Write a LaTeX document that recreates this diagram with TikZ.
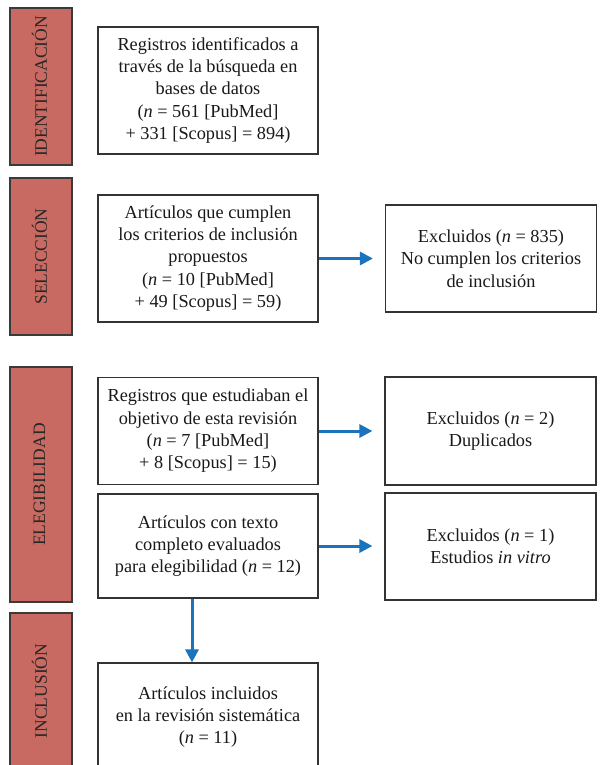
\documentclass[tikz,border=0pt]{standalone}
\usepackage{fontspec}
\setmainfont{Liberation Serif}
\usetikzlibrary{arrows.meta}
\definecolor{barfill}{HTML}{C96A62}
\definecolor{barline}{HTML}{3A3A3A}
\definecolor{arrowblue}{HTML}{1A73BC}
\definecolor{boxline}{HTML}{333333}
\begin{document}
\begin{tikzpicture}[x=1pt,y=-1pt,
  bar/.style={draw=barline, line width=1.2pt, fill=barfill},
  barlabel/.style={rotate=90, inner sep=0pt, text=black!85, font=\fontsize{17.5}{20}\selectfont},
  box/.style={draw=boxline, line width=1.2pt, fill=white, align=center, inner sep=0pt,
    minimum width=220pt, text=black!90, font=\fontsize{18.3}{22.3}\selectfont},
  rbox/.style={box, minimum width=211pt},
  arr/.style={draw=arrowblue, line width=3pt, -{Triangle[length=13pt,width=13pt]}}]
\fill[white] (0,0) rectangle (600,765);
\useasboundingbox (0,0) rectangle (600,765);

% phase bars
\draw[bar] (10,8) rectangle (72,165);
\draw[bar] (10,178) rectangle (72,335);
\draw[bar] (10,367) rectangle (72,602);
\draw[bar] (10,613) rectangle (72,775);
\node[barlabel] (l1) at (39.5,86.5) {IDENTIFICACIÓN};
\node[barlabel] (l2) at (39.5,256.5) {SELECCIÓN};
\node[barlabel] (l3) at (39.5,484.5) {ELEGIBILIDAD};
\node[barlabel] (l4) at (39.5,691) {INCLUSIÓN};

% main column
\node[box, minimum height=127pt] (b1) at (208,90.5)
  {Registros identificados a\\ través de la búsqueda en\\ bases de datos\\ (\textit{n} = 561 [PubMed]\\ + 331 [Scopus] = 894)};
\node[box, minimum height=127pt] (b2) at (208,258.5)
  {Artículos que cumplen\\ los criterios de inclusión\\ propuestos\\ (\textit{n} = 10 [PubMed]\\ + 49 [Scopus] = 59)};
\node[box, minimum height=107pt] (b3) at (208,431)
  {Registros que estudiaban el\\ objetivo de esta revisión\\ (\textit{n} = 7 [PubMed]\\ + 8 [Scopus] = 15)};
\node[box, minimum height=104pt] (b4) at (208,546)
  {Artículos con texto\\ completo evaluados\\ para elegibilidad (\textit{n} = 12)};
\node[box, minimum height=108pt] (b5) at (208,717)
  {Artículos incluidos\\ en la revisión sistemática\\ (\textit{n} = 11)};

% exclusion column
\node[rbox, minimum height=107pt] (r1) at (491,258.5)
  {Excluidos (\textit{n} = 835)\\ No cumplen los criterios\\ de inclusión};
\node[rbox, minimum height=108pt] (r2) at (490.5,431)
  {Excluidos (\textit{n} = 2)\\ Duplicados};
\node[rbox, minimum height=107pt] (r3) at (490.5,546.5)
  {Excluidos (\textit{n} = 1)\\ Estudios \textit{in vitro}};

% connectors
\draw[arr, shorten >=12pt] (b2.east) -- (b2.east -| r1.west);
\draw[arr, shorten >=12pt] (b3.east) -- (b3.east -| r2.west);
\draw[arr, shorten >=12pt] (b4.east) -- (b4.east -| r3.west);
\draw[arr] ([xshift=-16pt]b4.south) -- ([xshift=-16pt]b5.north);
\end{tikzpicture}
\end{document}
